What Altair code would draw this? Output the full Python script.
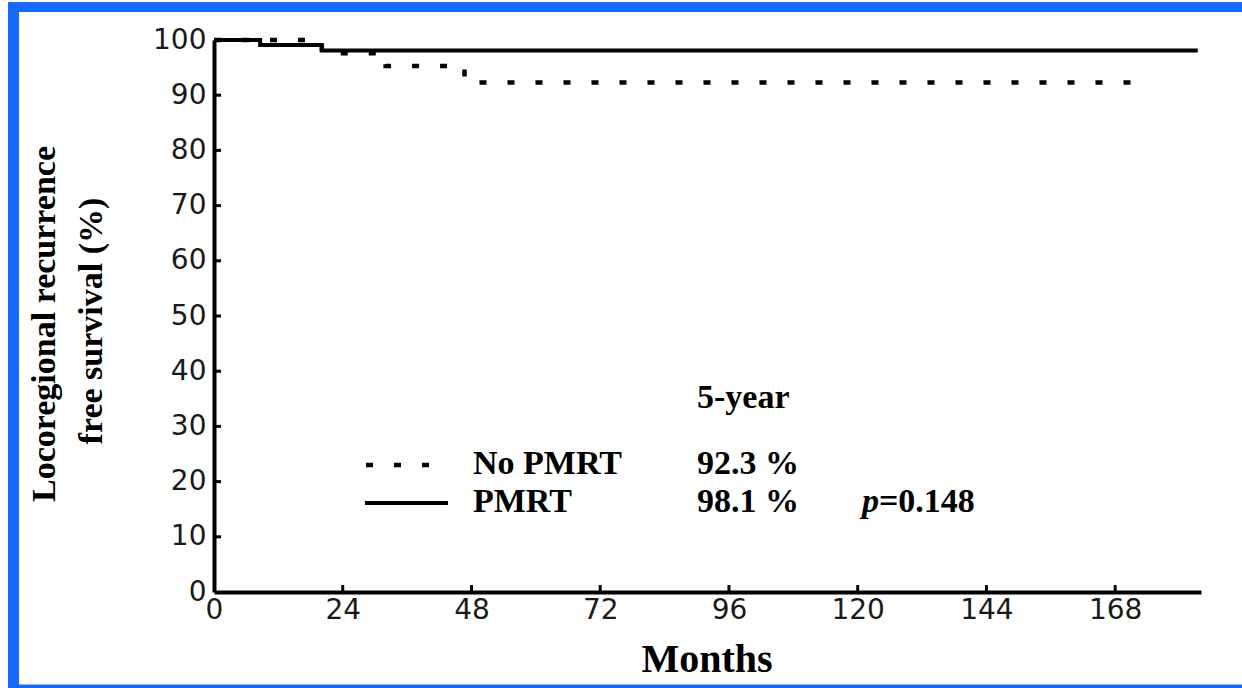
import altair as alt
import pandas as pd

# Kaplan-Meier step points: months of follow-up and % free of locoregional recurrence
pmrt_months = [0, 8.6, 20.1, 183.4]
pmrt_surv = [100, 99.1, 98.1, 98.1]
nopmrt_months = [0, 20.1, 32.0, 46.7, 172.3]
nopmrt_surv = [100, 97.6, 95.3, 92.3, 92.3]

# 5-year rates (the value of each curve at 60 months) and log-rank p
groups = ["No PMRT", "PMRT"]
five_year = [92.3, 98.1]
p_value = 0.148

x_ticks = [0, 24, 48, 72, 96, 120, 144, 168]
y_ticks = [0, 10, 20, 30, 40, 50, 60, 70, 80, 90, 100]

W, H = 987, 552
SERIF = "Liberation Serif"
SANS = "DejaVu Sans"
BLUE = "#1469ff"

pmrt = pd.DataFrame({"month": pmrt_months, "surv": pmrt_surv})
nopmrt = pd.DataFrame({"month": nopmrt_months, "surv": nopmrt_surv})

x_scale = alt.Scale(domain=[0, 184], nice=False, zero=False)
y_scale = alt.Scale(domain=[0, 100], nice=False)

x_axis = alt.Axis(values=x_ticks, ticks=False, grid=False, title=None,
                  domainColor="black", domainWidth=4, labelFont=SANS,
                  labelFontSize=28, labelColor="#1a1a1a", labelPadding=4,
                  labelFlush=False, labelOverlap=False)
y_axis = alt.Axis(values=y_ticks, ticks=False, grid=False, title=None,
                  domainColor="black", domainWidth=4, labelFont=SANS,
                  labelFontSize=28, labelColor="#1a1a1a", labelPadding=8,
                  labelFlush=False, labelOverlap=False)

# survival curves
solid = alt.Chart(pmrt).mark_line(
    interpolate="step-after", color="black", strokeWidth=4, clip=False
).encode(
    x=alt.X("month:Q", scale=x_scale, axis=x_axis),
    y=alt.Y("surv:Q", scale=y_scale, axis=y_axis),
)
dotted = alt.Chart(nopmrt).mark_line(
    interpolate="step-after", color="black", strokeWidth=4.5,
    strokeDash=[7, 21], clip=False
).encode(
    x=alt.X("month:Q", scale=x_scale),
    y=alt.Y("surv:Q", scale=y_scale),
)

# inward tick marks
xt = pd.DataFrame({"month": x_ticks[1:]})
x_tick_marks = alt.Chart(xt).mark_rule(color="black", strokeWidth=3).encode(
    x=alt.X("month:Q", scale=x_scale),
    y=alt.value(H),
    y2=alt.value(H - 7),
)
yt = pd.DataFrame({"surv": y_ticks[1:]})
y_tick_marks = alt.Chart(yt).mark_rule(color="black", strokeWidth=3).encode(
    y=alt.Y("surv:Q", scale=y_scale),
    x=alt.value(0),
    x2=alt.value(7),
)


def label(text, x, y, size=34, weight="bold", style="normal", align="left",
          font=SERIF, angle=0):
    return alt.Chart(pd.DataFrame({"t": [text]})).mark_text(
        font=font, fontSize=size, fontWeight=weight, fontStyle=style,
        align=align, baseline="middle", angle=angle, color="black"
    ).encode(text="t:N", x=alt.value(x), y=alt.value(y))


# axis titles
y_title1 = label("Locoregional recurrence", -169, 284, size=34,
                 align="center", angle=270)
y_title2 = label("free survival (%)", -122, 281, size=34,
                 align="center", angle=270)
x_title = label("Months", 493, 620, size=40, align="center")

# legend block
ROW1, ROW2 = 424, 462
leg = [
    label("5-year", 483, 358),
    label(groups[0], 259, ROW1),
    label(f"{five_year[0]:.1f} %", 483, ROW1),
    label(groups[1], 259, ROW2),
    label(f"{five_year[1]:.1f} %", 483, ROW2),
    label("p", 648, ROW2, style="italic"),
    label(f"={p_value:.3f}", 665, ROW2),
]
leg_dotted = alt.Chart(pd.DataFrame({"k": [0]})).mark_rule(
    color="black", strokeWidth=4.5, strokeDash=[7, 21]
).encode(x=alt.value(152), x2=alt.value(217), y=alt.value(ROW1 + 1))
leg_solid = alt.Chart(pd.DataFrame({"k": [0]})).mark_rule(
    color="black", strokeWidth=4
).encode(x=alt.value(151), x2=alt.value(234), y=alt.value(ROW2 + 1))

# blue picture frame (top, left and bottom edges)
frame_top = alt.Chart(pd.DataFrame({"k": [0]})).mark_rule(
    color=BLUE, strokeWidth=10
).encode(x=alt.value(-206), x2=alt.value(1028), y=alt.value(-33))
frame_left = alt.Chart(pd.DataFrame({"k": [0]})).mark_rule(
    color=BLUE, strokeWidth=11
).encode(x=alt.value(-200.5), y=alt.value(-38), y2=alt.value(648))
frame_bottom = alt.Chart(pd.DataFrame({"k": [0]})).mark_rule(
    color=BLUE, strokeWidth=4
).encode(x=alt.value(-206), x2=alt.value(1028), y=alt.value(646.5))

chart = alt.layer(
    frame_top, frame_left, frame_bottom,
    x_tick_marks, y_tick_marks, dotted, solid,
    y_title1, y_title2, x_title, leg_dotted, leg_solid, *leg
).properties(
    width=W, height=H,
    autosize=alt.AutoSizeParams(type="none"),
    padding={"left": 214, "top": 40, "right": 41, "bottom": 96},
    background="white",
).configure_view(stroke=None)

chart.save("out.html", embed_options={"renderer": "svg", "actions": False})
